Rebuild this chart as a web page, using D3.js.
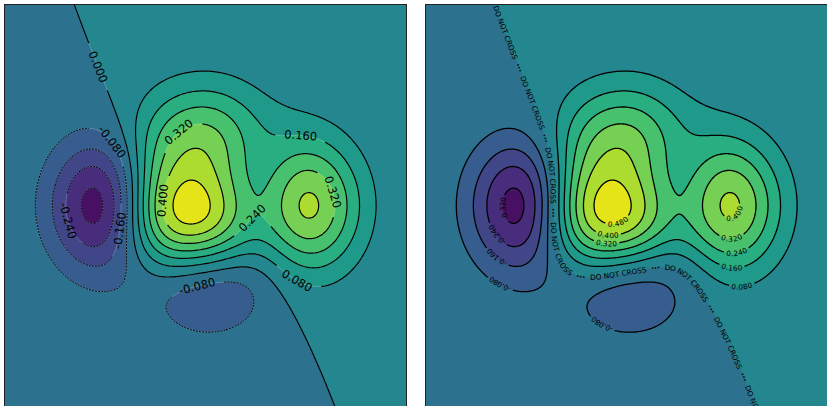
<!DOCTYPE html>
<html>
<head>
<meta charset="utf-8">
<script src="https://cdn.jsdelivr.net/npm/d3@7"></script>
<style>
  html, body { margin: 0; padding: 0; background: #ffffff; }
  svg { display: block; }
</style>
</head>
<body>
<svg id="chart" width="827" height="406"></svg>
<script>
// ---- surface definition: z = zScale * (sum of c * x^px * y^py) * exp(-x^2 - y^2)
const termCoef = [1, -0.5, 1, 1];
const termPowX = [0, 1, 5, 0];
const termPowY = [0, 0, 0, 3];
const zScale = 0.5;
const xDomain = [-3, 3];
const yDomain = [-3, 3];
const gridSize = 241;

// contour levels (filled bands between consecutive levels)
const levels = [-0.40, -0.32, -0.24, -0.16, -0.08, 0.00, 0.08, 0.16, 0.24, 0.32, 0.40, 0.48, 0.56];
const lineLevels = [-0.32, -0.24, -0.16, -0.08, 0.00, 0.08, 0.16, 0.24, 0.32, 0.40, 0.48];

// label texts for the two panels
const leftLabelLevels = [0.00, -0.08, -0.24, -0.16, 0.32, 0.40, 0.16, 0.32, 0.24, -0.08, 0.08];
const rightLabelLevels = [-0.32, -0.24, -0.16, -0.08, 0.48, 0.40, 0.32, 0.40, 0.32, 0.24, 0.16, 0.08, -0.08];
const zeroLineWords = "DO NOT CROSS";
const zeroLineSeparator = "\u00B7\u00B7\u00B7";

// label anchor positions (panel pixels) — layout only
const leftLabelAt = [[94, 61], [107, 136], [65, 215], [115, 225], [173, 126], [157, 195],
                     [296, 130], [329, 187], [247, 213], [192, 281], [292, 275]];
const rightLabelAt = [[78, 203], [71, 229], [71, 252], [75, 278], [193, 218], [182, 229],
                      [181, 239], [308, 208], [306, 233], [310, 247], [306, 262], [315, 281], [175, 320]];

const W = 401, H = 401;
const panels = [{ x: 5, y: 5 }, { x: 426, y: 5 }];

function surface(xv, yv) {
  let p = 0;
  for (let k = 0; k < termCoef.length; k++) {
    p += termCoef[k] * Math.pow(xv, termPowX[k]) * Math.pow(yv, termPowY[k]);
  }
  return zScale * p * Math.exp(-xv * xv - yv * yv);
}

const n = gridSize;
const step = (xDomain[1] - xDomain[0]) / (n - 1);
const values = new Float64Array(n * n);
for (let j = 0; j < n; j++) {
  for (let i = 0; i < n; i++) {
    values[j * n + i] = surface(xDomain[0] + i * step, yDomain[1] - j * step);
  }
}

const x = d3.scaleLinear().domain(xDomain).range([0, W]);
const y = d3.scaleLinear().domain(yDomain).range([H, 0]);
const gxToX = gx => xDomain[0] + (gx - 0.5) * step;
const gyToY = gy => yDomain[1] - (gy - 0.5) * step;

const proj = d3.geoTransform({
  point(gx, gy) { this.stream.point(x(gxToX(gx)), y(gyToY(gy))); }
});
const fillPath = d3.geoPath(proj);
const bands = d3.contours().size([n, n]).thresholds(levels)(values);
const bandColor = k => d3.interpolateViridis((k + 0.5) / (levels.length - 1));

// ---- contour lines as open / closed polylines
const contourGen = d3.contours().size([n, n]);
function onBorder(a, b) {
  return (a[0] === 0 && b[0] === 0) || (a[0] === n && b[0] === n) ||
         (a[1] === 0 && b[1] === 0) || (a[1] === n && b[1] === n);
}
function splitRing(ring) {
  const m = ring.length - 1;
  let b0 = -1;
  for (let s = 0; s < m; s++) if (onBorder(ring[s], ring[s + 1])) { b0 = s; break; }
  if (b0 < 0) return [{ pts: ring.slice(), closed: true }];
  const out = [];
  let cur = [];
  for (let k = 1; k <= m; k++) {
    const s = (b0 + k) % m;
    if (onBorder(ring[s], ring[s + 1])) {
      if (cur.length > 1) out.push({ pts: cur, closed: false });
      cur = [];
    } else {
      if (!cur.length) cur.push(ring[s]);
      cur.push(ring[s + 1]);
    }
  }
  if (cur.length > 1) out.push({ pts: cur, closed: false });
  return out;
}
function measure(pc) {
  const c = [0];
  for (let i = 1; i < pc.pts.length; i++) {
    c.push(c[i - 1] + Math.hypot(pc.pts[i][0] - pc.pts[i - 1][0], pc.pts[i][1] - pc.pts[i - 1][1]));
  }
  pc.cum = c;
  pc.len = c[c.length - 1];
}
// higher values sit on the left of the travel direction
function orient(pc, t) {
  const p = pc.pts, k = Math.floor((p.length - 1) / 2);
  const a = p[k], b = p[k + 1];
  const dx = b[0] - a[0], dy = b[1] - a[1], L = Math.hypot(dx, dy) || 1;
  const mx = (a[0] + b[0]) / 2 + 1.5 * dy / L, my = (a[1] + b[1]) / 2 - 1.5 * dx / L;
  if (surface(x.invert(mx), y.invert(my)) < t) p.reverse();
}
function levelPieces(t) {
  const mp = contourGen.contour(values, t);
  const out = [];
  mp.coordinates.forEach(poly => poly.forEach(ring => out.push(...splitRing(ring))));
  out.forEach(pc => {
    pc.pts = pc.pts.map(([gx, gy]) => [x(gxToX(gx)), y(gyToY(gy))]);
    orient(pc, t);
    measure(pc);
    pc.level = t;
    pc.gaps = [];
  });
  return out;
}
function pointAt(pc, s) {
  const { pts, cum } = pc;
  if (s <= 0) return pts[0].slice();
  if (s >= pc.len) return pts[pts.length - 1].slice();
  let i = 0;
  while (i < cum.length - 2 && cum[i + 1] < s) i++;
  const f = (s - cum[i]) / ((cum[i + 1] - cum[i]) || 1);
  return [pts[i][0] + f * (pts[i + 1][0] - pts[i][0]), pts[i][1] + f * (pts[i + 1][1] - pts[i][1])];
}
function sliceLine(pc, s0, s1) {
  const out = [pointAt(pc, s0)];
  pc.pts.forEach((p, i) => { if (pc.cum[i] > s0 && pc.cum[i] < s1) out.push(p); });
  out.push(pointAt(pc, s1));
  return out;
}
function visibleParts(pc) {
  const gaps = pc.gaps.slice().sort((a, b) => a[0] - b[0]);
  const parts = [];
  let s = 0;
  gaps.forEach(([g0, g1]) => { if (g0 > s) parts.push([s, g0]); s = Math.max(s, g1); });
  if (s < pc.len) parts.push([s, pc.len]);
  return parts.map(([a, b]) => sliceLine(pc, a, b));
}
function attach(pieces, t, px, py) {
  let best = null;
  pieces.filter(pc => Math.abs(pc.level - t) < 1e-9).forEach(pc => pc.pts.forEach((p, i) => {
    const d = (p[0] - px) ** 2 + (p[1] - py) ** 2;
    if (!best || d < best.d) best = { pc, i, d };
  }));
  const pc = best.pc;
  let idx = best.i;
  if (pc.closed && !pc.rotated) {
    const N = pc.pts.length - 1;
    const start = (idx + Math.floor(N / 2)) % N;
    const uniq = pc.pts.slice(0, N);
    pc.pts = uniq.slice(start).concat(uniq.slice(0, start));
    pc.pts.push(pc.pts[0].slice());
    idx = (idx - start + N) % N;
    pc.rotated = true;
    measure(pc);
  }
  return { pc, idx, s: pc.cum[idx] };
}

const line = d3.line();
const svg = d3.select("#chart");
const defs = svg.append("defs");

panels.forEach((panel, pi) => {
  const g = svg.append("g").attr("transform", `translate(${panel.x},${panel.y})`);
  defs.append("clipPath").attr("id", `clip${pi}`)
    .append("rect").attr("x", 0).attr("y", 0).attr("width", W).attr("height", H);
  const body = g.append("g").attr("clip-path", `url(#clip${pi})`);

  // filled bands
  body.append("g").selectAll("path").data(bands.slice(0, levels.length - 1)).join("path")
    .attr("d", fillPath)
    .attr("fill", (d, k) => bandColor(k))
    .attr("stroke", (d, k) => bandColor(k))
    .attr("stroke-width", 0.3);

  const pieces = [];
  lineLevels.forEach(t => pieces.push(...levelPieces(t)));
  const labelLayer = body.append("g");

  if (pi === 0) {
    // faint seams between bands
    body.append("g").selectAll("path").data(pieces).join("path")
      .attr("d", d => line(d.pts))
      .attr("fill", "none")
      .attr("stroke", "rgba(235,245,245,0.35)")
      .attr("stroke-width", 0.7);

    leftLabelLevels.forEach((t, k) => {
      const [ax, ay] = leftLabelAt[k];
      const a = attach(pieces, t, ax, ay);
      const p = a.pc.pts;
      const i0 = Math.max(0, a.idx - 3), i1 = Math.min(p.length - 1, a.idx + 3);
      let rot = Math.atan2(p[i1][1] - p[i0][1], p[i1][0] - p[i0][0]) * 180 / Math.PI;
      if (rot > 90) rot -= 180;
      if (rot < -90) rot += 180;
      const txt = labelLayer.append("text")
        .attr("transform", `translate(${p[a.idx][0]},${p[a.idx][1]}) rotate(${rot})`)
        .attr("text-anchor", "middle")
        .attr("dominant-baseline", "central")
        .attr("font-family", "DejaVu Sans")
        .attr("font-size", 11.5)
        .attr("fill", "#000")
        .text(t.toFixed(3));
      const w = txt.node().getComputedTextLength();
      a.pc.gaps.push([a.s - w / 2 - 9, a.s + w / 2 + 9]);
    });

    pieces.forEach(pc => {
      visibleParts(pc).forEach(pts => {
        body.append("path")
          .attr("d", line(pts))
          .attr("fill", "none")
          .attr("stroke", "#000")
          .attr("stroke-width", pc.level < 0 ? 1 : 1.2)
          .attr("stroke-dasharray", pc.level < 0 ? "2,1.1" : null);
      });
    });
  } else {
    pieces.forEach((pc, k) => { pc.id = `cl${pi}_${k}`; });
    defs.selectAll(null).data(pieces).join("path")
      .attr("id", d => d.id)
      .attr("d", d => line(d.pts));

    rightLabelLevels.forEach((t, k) => {
      const [ax, ay] = rightLabelAt[k];
      const a = attach(pieces, t, ax, ay);
      d3.select(`#${a.pc.id}`).attr("d", line(a.pc.pts));
      const txt = labelLayer.append("text")
        .attr("font-family", "DejaVu Sans")
        .attr("font-size", 7.3)
        .attr("fill", "#000")
        .attr("text-anchor", "middle")
        .attr("dominant-baseline", "central");
      txt.append("textPath")
        .attr("href", `#${a.pc.id}`)
        .attr("startOffset", a.s)
        .text(t.toFixed(3));
      const w = txt.node().getComputedTextLength();
      a.pc.gaps.push([a.s - w / 2 - 3, a.s + w / 2 + 3]);
    });

    // zero contour carries repeated text instead of a stroke
    pieces.filter(pc => pc.level === 0).forEach(pc => {
      const reps = Math.ceil(pc.len / 50) + 2;
      const tp = labelLayer.append("text")
        .attr("font-family", "DejaVu Sans")
        .attr("font-size", 7.3)
        .attr("fill", "#000")
        .attr("dominant-baseline", "central")
        .append("textPath")
        .attr("href", `#${pc.id}`)
        .attr("startOffset", 2);
      for (let r = 0; r < reps; r++) {
        tp.append("tspan").text(zeroLineWords + "\u00A0\u00A0");
        tp.append("tspan").attr("font-weight", "bold").attr("font-size", 8).text(zeroLineSeparator);
        tp.append("tspan").text("\u00A0\u00A0");
      }
      pc.gaps.push([0, pc.len]);
    });

    pieces.forEach(pc => {
      visibleParts(pc).forEach(pts => {
        body.append("path")
          .attr("d", line(pts))
          .attr("fill", "none")
          .attr("stroke", "#000")
          .attr("stroke-width", 1.3)
          .attr("stroke-linecap", "round");
      });
    });
  }
  labelLayer.raise();

  g.append("rect")
    .attr("x", -0.5).attr("y", -0.5).attr("width", W + 1).attr("height", H + 1)
    .attr("fill", "none").attr("stroke", "#222").attr("stroke-width", 1);
});
</script>
</body>
</html>
